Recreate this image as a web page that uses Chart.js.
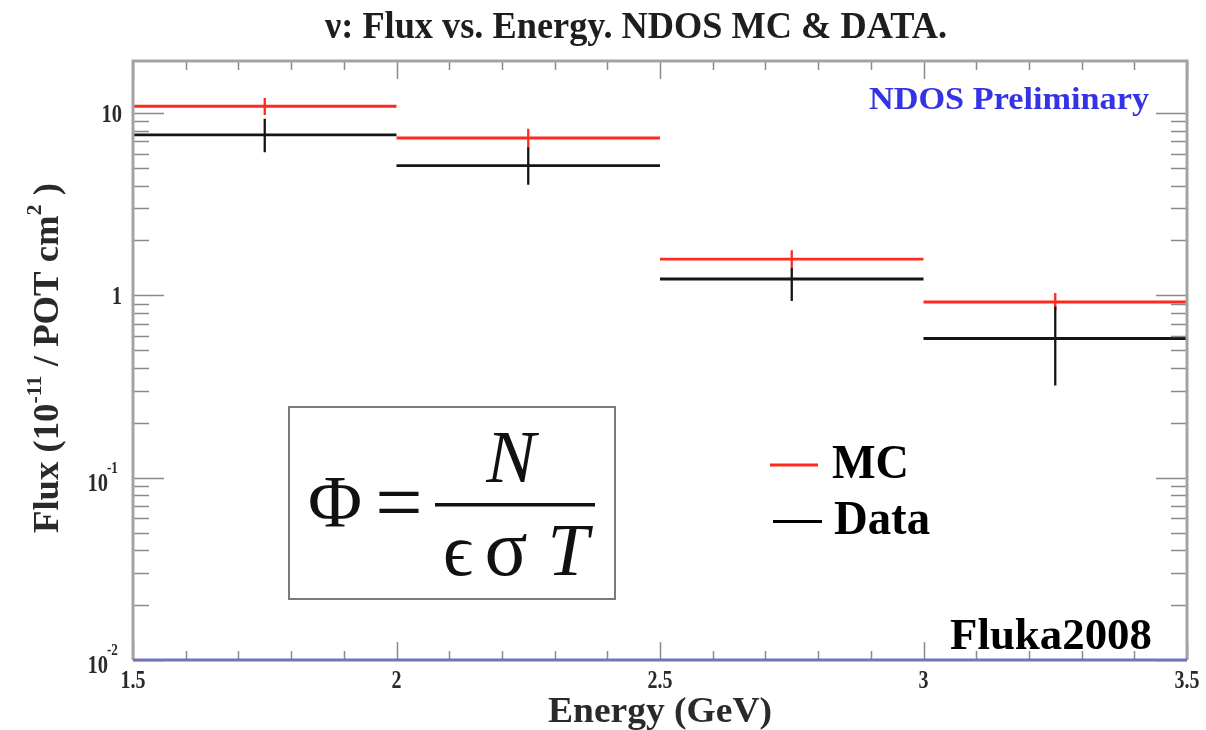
<!DOCTYPE html>
<html>
<head>
<meta charset="utf-8">
<script src="https://cdn.jsdelivr.net/npm/chart.js@4.4.1/dist/chart.umd.min.js"></script>
<style>
  html, body { margin: 0; padding: 0; background: #ffffff; }
  #wrap { width: 1206px; height: 730px; position: relative; }
</style>
</head>
<body>
<div id="wrap"><canvas id="c" width="1206" height="730"></canvas></div>
<script>
// Energy bins (GeV) and flux per bin (10^-11 / POT cm^2)
const binEdges = [1.5, 2.0, 2.5, 3.0, 3.5];
const mcFlux = [10.9, 7.3, 1.58, 0.92];
const mcErrHigh = [12.1, 8.2, 1.77, 1.03];
const mcErrLow = [9.75, 6.45, 1.42, 0.83];
const dataFlux = [7.6, 5.15, 1.23, 0.58];
const dataErrHigh = [9.3, 6.5, 1.42, 0.87];
const dataErrLow = [6.1, 4.05, 0.93, 0.32];

// Axis labels
const xTickValues = [1.5, 2, 2.5, 3, 3.5];
const xTickLabels = ['1.5', '2', '2.5', '3', '3.5'];
const yTickValues = [0.01, 0.1, 1, 10];
const yTickBase = ['10', '10', '1', '10'];
const yTickExp = ['-2', '-1', '', ''];

const SERIF = '"Liberation Serif", "DejaVu Serif", serif';
const RED = '#ff2a1f';
const BLACK = '#151515';

// Horizontal segment across each bin, separated by gaps
function binSegments(vals) {
  const pts = [];
  vals.forEach((v, i) => {
    pts.push({ x: binEdges[i], y: v }, { x: binEdges[i + 1], y: v });
    pts.push({ x: (binEdges[i] + binEdges[i + 1]) / 2, y: null });
  });
  return pts;
}
// Vertical error bar at each bin centre
function errorBars(lo, hi) {
  const pts = [];
  lo.forEach((l, i) => {
    const c = (binEdges[i] + binEdges[i + 1]) / 2;
    pts.push({ x: c, y: l }, { x: c, y: hi[i] }, { x: c, y: null });
  });
  return pts;
}

function lineSet(label, pts, color, width) {
  return {
    label, data: pts, borderColor: color, backgroundColor: color,
    borderWidth: width, pointRadius: 0, tension: 0, spanGaps: false, fill: false
  };
}

// Draw text squeezed/stretched horizontally to a given width
function fitText(ctx, text, x, y, font, width, align, color) {
  ctx.save();
  ctx.font = font;
  ctx.fillStyle = color || '#111';
  const w = ctx.measureText(text).width;
  const sx = width ? width / w : 1;
  ctx.translate(x, y);
  ctx.scale(sx, 1);
  ctx.textAlign = align || 'left';
  ctx.textBaseline = 'alphabetic';
  ctx.fillText(text, 0, 0);
  ctx.restore();
}
function textWidth(ctx, text, font) {
  ctx.save();
  ctx.font = font;
  const w = ctx.measureText(text).width;
  ctx.restore();
  return w;
}

const decorations = {
  id: 'decorations',
  afterDatasetsDraw(chart) {
    const ctx = chart.ctx;
    const xs = chart.scales.x, ys = chart.scales.y;
    const a = chart.chartArea;

    // ticks (inside the frame, on all four sides)
    ctx.save();
    ctx.strokeStyle = '#8a8a8a';
    ctx.lineWidth = 1.5;
    for (let k = 15; k <= 35; k++) {
      const v = k / 10;
      const px = Math.round(xs.getPixelForValue(v)) + 0.5;
      const len = (k % 5 === 0) ? 18 : 9;
      ctx.beginPath();
      ctx.moveTo(px, a.bottom); ctx.lineTo(px, a.bottom - len);
      ctx.moveTo(px, a.top); ctx.lineTo(px, a.top + len);
      ctx.stroke();
    }
    for (let d = -2; d <= 1; d++) {
      for (let m = 1; m <= 9; m++) {
        const v = m * Math.pow(10, d);
        if (v > ys.max) continue;
        const py = Math.round(ys.getPixelForValue(v)) + 0.5;
        const len = (m === 1) ? 31 : 16;
        ctx.beginPath();
        ctx.moveTo(a.left, py); ctx.lineTo(a.left + len, py);
        ctx.moveTo(a.right, py); ctx.lineTo(a.right - len, py);
        ctx.stroke();
      }
    }
    ctx.restore();

    // frame
    ctx.save();
    ctx.lineWidth = 3;
    ctx.strokeStyle = '#a3a3a3';
    ctx.beginPath();
    ctx.moveTo(a.left, a.bottom); ctx.lineTo(a.left, a.top);
    ctx.lineTo(a.right, a.top); ctx.lineTo(a.right, a.bottom);
    ctx.stroke();
    ctx.strokeStyle = '#7272bd';
    ctx.beginPath();
    ctx.moveTo(a.left, a.bottom); ctx.lineTo(a.right, a.bottom);
    ctx.stroke();
    ctx.restore();

    // x tick labels
    const xtf = 'bold 25px ' + SERIF;
    xTickValues.forEach((v, i) => {
      const px = xs.getPixelForValue(v);
      const t = xTickLabels[i];
      fitText(ctx, t, px, 688, xtf, textWidth(ctx, t, xtf) * 0.8, 'center', '#2a2a2a');
    });

    // y tick labels
    const ytf = 'bold 25px ' + SERIF, yef = 'bold 16px ' + SERIF;
    yTickValues.forEach((v, i) => {
      const py = ys.getPixelForValue(v);
      const base = yTickBase[i], exp = yTickExp[i];
      const wb = textWidth(ctx, base, ytf) * 0.82;
      if (exp) {
        const we = textWidth(ctx, exp, yef) * 0.82;
        fitText(ctx, base, 108, py + 13, ytf, wb, 'right', '#2a2a2a');
        fitText(ctx, exp, 107, py - 5, yef, we, 'left', '#2a2a2a');
      } else {
        fitText(ctx, base, 122, py + 9, ytf, wb, 'right', '#2a2a2a');
      }
    });

    // title
    fitText(ctx, 'ν: Flux vs. Energy. NDOS MC & DATA.', 636, 38, 'bold 37px ' + SERIF, 622, 'center', '#1e1e1e');

    // x axis title
    fitText(ctx, 'Energy (GeV)', 660, 722, 'bold 35px ' + SERIF, 224, 'center', '#2a2a2a');

    // y axis title, rotated, with superscripts
    ctx.save();
    ctx.translate(58, 533);
    ctx.rotate(-Math.PI / 2);
    const segs = [
      { t: 'Flux (10', size: 35, dy: 0 },
      { t: '-11', size: 21, dy: -17 },
      { t: ' / POT cm', size: 35, dy: 0 },
      { t: '2', size: 21, dy: -17 },
      { t: ' )', size: 35, dy: 0 }
    ];
    let total = 0;
    segs.forEach(s => { ctx.font = 'bold ' + s.size + 'px ' + SERIF; s.w = ctx.measureText(s.t).width; total += s.w; });
    ctx.scale(350 / total, 1);
    ctx.fillStyle = '#2a2a2a';
    ctx.textBaseline = 'alphabetic';
    let cx = 0;
    segs.forEach(s => {
      ctx.font = 'bold ' + s.size + 'px ' + SERIF;
      ctx.fillText(s.t, cx, s.dy);
      cx += s.w;
    });
    ctx.restore();

    // preliminary tag
    fitText(ctx, 'NDOS Preliminary', 869, 109, 'bold 32px ' + SERIF, 280, 'left', '#3434e6');

    // flux definition box
    ctx.save();
    ctx.strokeStyle = '#7a7a7a';
    ctx.lineWidth = 2;
    ctx.strokeRect(289, 407, 326, 192);
    ctx.fillStyle = '#111';
    ctx.textAlign = 'center';
    ctx.font = '74px ' + SERIF;
    ctx.fillText('Φ', 335, 527);
    ctx.font = '84px ' + SERIF;
    ctx.fillText('=', 399, 531);
    ctx.font = 'italic 74px ' + SERIF;
    ctx.fillText('N', 511, 482);
    ctx.font = '74px ' + SERIF;
    ctx.fillText('ϵ', 458, 575);
    ctx.font = '80px ' + SERIF;
    ctx.fillText('σ', 506, 575);
    ctx.font = 'italic 74px ' + SERIF;
    ctx.fillText('T', 568, 575);
    ctx.fillRect(435, 503, 160, 3.5);
    ctx.restore();

    // legend
    ctx.save();
    ctx.lineWidth = 3;
    ctx.strokeStyle = RED;
    ctx.beginPath(); ctx.moveTo(770, 465); ctx.lineTo(818, 465); ctx.stroke();
    ctx.strokeStyle = '#000';
    ctx.beginPath(); ctx.moveTo(773, 521.5); ctx.lineTo(822, 521.5); ctx.stroke();
    ctx.restore();
    fitText(ctx, 'MC', 832, 478, 'bold 48px ' + SERIF, 77, 'left', '#000');
    fitText(ctx, 'Data', 834, 534, 'bold 48px ' + SERIF, 96, 'left', '#000');
    fitText(ctx, 'Fluka2008', 950, 649, 'bold 45px ' + SERIF, 202, 'left', '#000');
  }
};

new Chart(document.getElementById('c'), {
  type: 'line',
  data: {
    datasets: [
      lineSet('Data', binSegments(dataFlux), BLACK, 2.8),
      lineSet('Data error', errorBars(dataErrLow, dataErrHigh), BLACK, 2.3),
      lineSet('MC', binSegments(mcFlux), RED, 2.8),
      lineSet('MC error', errorBars(mcErrLow, mcErrHigh), RED, 2.3)
    ]
  },
  options: {
    responsive: false,
    animation: false,
    events: [],
    layout: { padding: { left: 133, right: 19, top: 61, bottom: 70 } },
    plugins: { legend: { display: false }, title: { display: false }, tooltip: { enabled: false } },
    scales: {
      x: { type: 'linear', min: 1.5, max: 3.5, display: false },
      y: { type: 'logarithmic', min: 0.01, max: 19.3, display: false }
    }
  },
  plugins: [decorations]
});
</script>
</body>
</html>
